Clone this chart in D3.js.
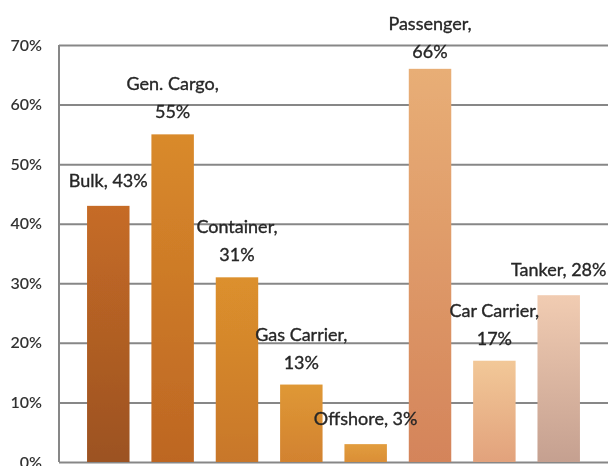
<!DOCTYPE html>
<html>
<head>
<meta charset="utf-8">
<script src="https://cdn.jsdelivr.net/npm/d3@7"></script>
<style>
  html, body { margin: 0; padding: 0; background: #ffffff; }
  svg { display: block; }
</style>
</head>
<body>
<svg id="chart" width="611" height="466"></svg>
<script>
// Share of ships by type (percent)
const categories = ["Bulk", "Gen. Cargo", "Container", "Gas Carrier", "Offshore", "Passenger", "Car Carrier", "Tanker"];
const shares = [43, 55, 31, 13, 3, 66, 17, 28];
const yTicks = [0, 10, 20, 30, 40, 50, 60, 70];

// Gradient colours per bar: [top, bottom]
const barColors = [
  ["#c66c26", "#9c5222"],
  ["#d98a2b", "#bd6623"],
  ["#dc902d", "#c8772a"],
  ["#df9836", "#d2822f"],
  ["#e29d3e", "#da8e36"],
  ["#e8ae76", "#d4845a"],
  ["#f2c898", "#e2a27c"],
  ["#f1ccb2", "#c5a090"]
];
// Labels that break after the comma
const wrapped = new Set(["Gen. Cargo", "Container", "Gas Carrier", "Passenger", "Car Carrier"]);

const svg = d3.select("#chart");
const plot = { left: 59, right: 608, top: 45, bottom: 462 };

const x = d3.scaleBand()
  .domain(categories)
  .range([plot.left, plot.right])
  .paddingInner(0.34)
  .paddingOuter(0.436);

const y = d3.scaleLinear().domain([0, 70]).range([plot.bottom, plot.top]);

const defs = svg.append("defs");
barColors.forEach((c, i) => {
  const g = defs.append("linearGradient")
    .attr("id", "grad" + i)
    .attr("x1", 0).attr("y1", 0).attr("x2", 0).attr("y2", 1);
  g.append("stop").attr("offset", "0%").attr("stop-color", c[0]);
  g.append("stop").attr("offset", "100%").attr("stop-color", c[1]);
});
defs.append("filter").attr("id", "soft")
  .append("feGaussianBlur").attr("stdDeviation", 0.5);

// Gridlines and y axis labels
const yAxis = d3.axisLeft(y)
  .tickValues(yTicks)
  .tickSize(-(plot.right - plot.left))
  .tickPadding(17)
  .tickFormat(d => d + "%");

const ga = svg.append("g")
  .attr("transform", `translate(${plot.left},0)`)
  .call(yAxis);
ga.select(".domain").remove();
ga.selectAll(".tick line")
  .attr("stroke", "#878787")
  .attr("stroke-width", 2);
ga.selectAll(".tick text")
  .attr("fill", "#333333")
  .attr("font-family", "Lato, 'Open Sans', sans-serif")
  .attr("font-size", 16)
  .attr("font-weight", 600)
  .attr("filter", "url(#soft)");

// Vertical axis line
svg.append("line")
  .attr("x1", plot.left).attr("x2", plot.left)
  .attr("y1", plot.top).attr("y2", plot.bottom)
  .attr("stroke", "#878787")
  .attr("stroke-width", 2);

// Bars
svg.append("g")
  .selectAll("rect")
  .data(categories)
  .join("rect")
  .attr("x", d => x(d))
  .attr("y", (d, i) => y(shares[i]))
  .attr("width", x.bandwidth())
  .attr("height", (d, i) => y(0) - y(shares[i]))
  .attr("fill", (d, i) => `url(#grad${i})`)
  .attr("filter", "url(#soft)");

// Data labels above bars
const lineGap = 28;
const labels = svg.append("g")
  .attr("font-family", "Lato, 'Open Sans', sans-serif")
  .attr("font-size", 18)
  .attr("fill", "#262626")
  .attr("stroke", "#262626")
  .attr("stroke-width", 0.35)
  .attr("text-anchor", "middle")
  .attr("filter", "url(#soft)");

categories.forEach((c, i) => {
  const cx = x(c) + x.bandwidth() / 2;
  const lines = wrapped.has(c) ? [c + ",", shares[i] + "%"] : [c + ", " + shares[i] + "%"];
  let lastBase = y(shares[i]) - (lines.length > 1 ? 16 : 19);
  let firstBase = lastBase - lineGap * (lines.length - 1);
  if (firstBase < 30) { lastBase += 30 - firstBase; firstBase = 30; }
  const t = labels.append("text");
  lines.forEach((ln, k) => {
    t.append("tspan")
      .attr("x", cx)
      .attr("y", firstBase + k * lineGap)
      .text(ln);
  });
});
</script>
</body>
</html>
